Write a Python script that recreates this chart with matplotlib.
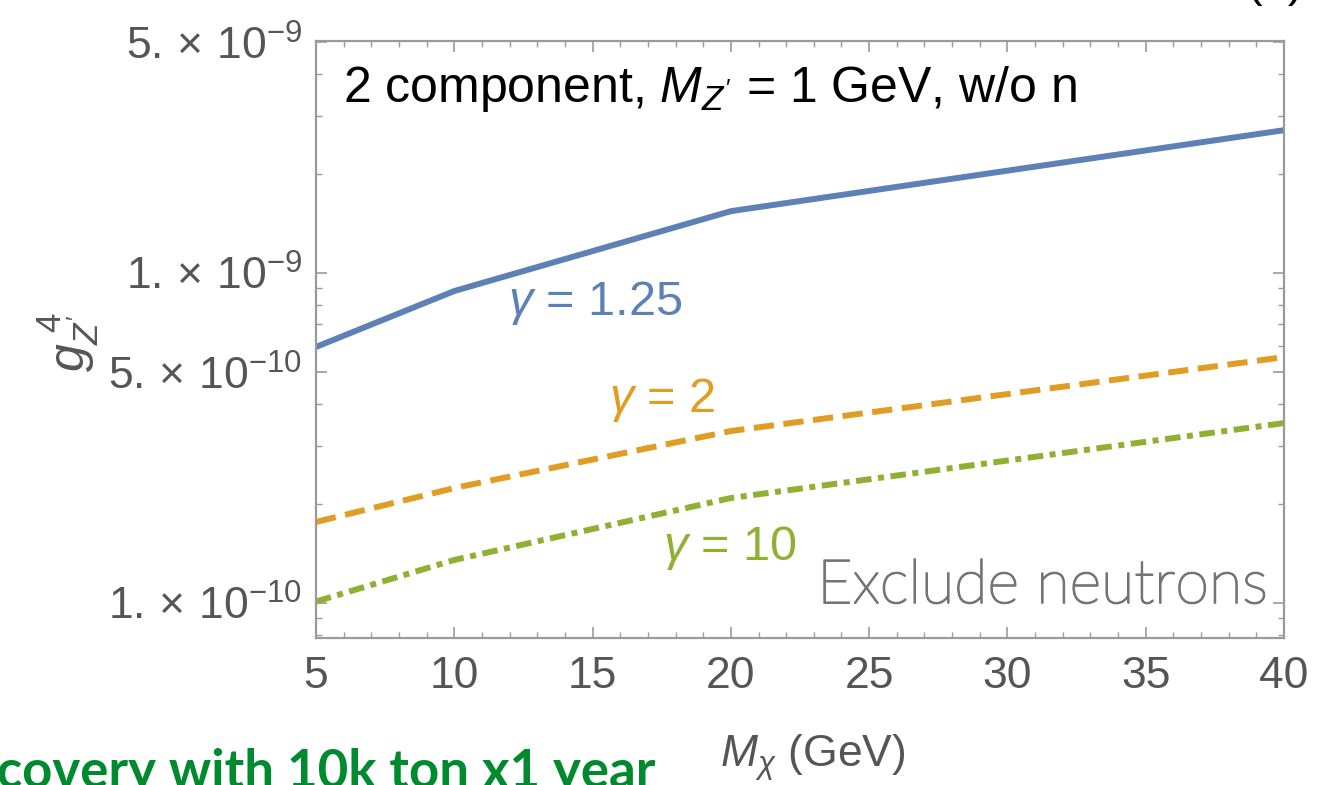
import matplotlib
matplotlib.use("Agg")
import matplotlib.pyplot as plt
import matplotlib.patheffects as pe
from matplotlib.ticker import FixedLocator, NullFormatter, FuncFormatter

plt.rcParams['font.family'] = ['Liberation Sans', 'DejaVu Sans']
plt.rcParams['mathtext.fontset'] = 'custom'
plt.rcParams['mathtext.rm'] = 'Liberation Sans'
plt.rcParams['mathtext.it'] = 'Liberation Sans:italic'
plt.rcParams['mathtext.bf'] = 'Liberation Sans:bold'

# ---- data ----
mx = [5, 10, 20, 40]
g_125 = [5.97e-10, 8.82e-10, 1.54e-9, 2.71e-9]
g_2 = [1.76e-10, 2.23e-10, 3.32e-10, 5.56e-10]
g_10 = [1.01e-10, 1.35e-10, 2.08e-10, 3.51e-10]

x_major = [5, 10, 15, 20, 25, 30, 35, 40]
y_major = [1e-10, 5e-10, 1e-9, 5e-9]
y_major_labels = [r'1.$\,\times\,$10$^{-10}$', r'5.$\,\times\,$10$^{-10}$',
                  r'1.$\,\times\,$10$^{-9}$', r'5.$\,\times\,$10$^{-9}$']

W, H = 1342, 785
fig = plt.figure(figsize=(W / 100, H / 100), dpi=100)
ax = fig.add_axes([316 / W, 1 - 638 / H, (1284 - 316) / W, (638 - 41) / H])

BLUE = '#5E81B5'
ORANGE = '#E19C24'
GREEN = '#8FB032'
FRAME = '#9a9a9a'
TXT = '#555555'

lw = 4.3
ax.plot(mx, g_125, color=BLUE, lw=lw, solid_capstyle='butt')
ax.plot(mx, g_2, color=ORANGE, lw=lw, linestyle=(0, (3.4, 1.6)), dash_capstyle='butt')
ax.plot(mx, g_10, color=GREEN, lw=lw, linestyle=(0, (2.6, 1.1, 1.0, 1.1)), dash_capstyle='butt')

ax.set_yscale('log')
ax.set_xlim(5, 40)
ax.set_ylim(7.83e-11, 5.05e-9)

ax.xaxis.set_major_locator(FixedLocator(x_major))
ax.xaxis.set_minor_locator(FixedLocator(list(range(5, 41))))
ax.yaxis.set_major_locator(FixedLocator(y_major))
minors = []
for dec in [1e-11, 1e-10, 1e-9]:
    for s in range(2, 10):
        v = s * dec
        if v not in y_major and 7.83e-11 <= v <= 5.05e-9:
            minors.append(v)
ax.yaxis.set_minor_locator(FixedLocator(minors))
ax.yaxis.set_major_formatter(FuncFormatter(lambda v, p: y_major_labels[y_major.index(min(y_major, key=lambda t: abs(t - v)))]))
ax.yaxis.set_minor_formatter(NullFormatter())
ax.xaxis.set_major_formatter(FuncFormatter(lambda v, p: f'{int(round(v))}'))

ax.tick_params(which='both', direction='in', top=True, right=True, color=FRAME, labelcolor=TXT)
ax.tick_params(which='major', length=8, width=1.2, labelsize=32)
ax.tick_params(which='minor', length=4.5, width=1.0)
ax.tick_params(axis='x', which='major', pad=13)
ax.tick_params(axis='y', which='major', pad=10)
for sp in ax.spines.values():
    sp.set_color(FRAME)
    sp.set_linewidth(1.6)

# texts inside plot
ax.text(343 / W, 1 - 102 / H, r"2 component, $M_{Z'}$ = 1 GeV, w/o n", transform=fig.transFigure,
        fontsize=36, color='black', ha='left', va='baseline')
ax.text(595 / W, 1 - 303 / H, r'$\gamma$ = 1.25', transform=fig.transFigure, color=BLUE,
        fontsize=35, ha='center', va='center')
ax.text(662 / W, 1 - 400 / H, r'$\gamma$ = 2', transform=fig.transFigure, color=ORANGE,
        fontsize=35, ha='center', va='center')
ax.text(730 / W, 1 - 548 / H, r'$\gamma$ = 10', transform=fig.transFigure, color=GREEN,
        fontsize=35, ha='center', va='center')
NEUT = '#747474'
ax.text(1268 / W, 1 - 603 / H, 'Exclude neutrons', transform=fig.transFigure, color=NEUT,
        fontsize=44, family=['Lato', 'DejaVu Sans'], fontweight='light', ha='right', va='baseline',
        path_effects=[pe.withStroke(linewidth=1.3, foreground=NEUT)])

# axis labels
fig.text(813 / W, 1 - 758 / H, r'$M_{\chi}$ (GeV)', color=TXT, fontsize=32, ha='center', va='center')
fig.text(68 / W, 1 - 342 / H, r"$g_{Z'}^{\ 4}$", color=TXT, fontsize=36, ha='center', va='center',
         rotation=90)

# cropped slide text
fig.text(655 / W, 1 - 788 / H, 'Discovery with 10k ton x1 year', color='#008A2E', fontsize=38,
         family=['Lato', 'DejaVu Sans'], fontweight='bold', ha='right', va='baseline')
fig.text(1275 / W, 1 + 4 / H, '(b)', color='black', fontsize=34, ha='center', va='baseline')

fig.savefig('out.png', dpi=100)
